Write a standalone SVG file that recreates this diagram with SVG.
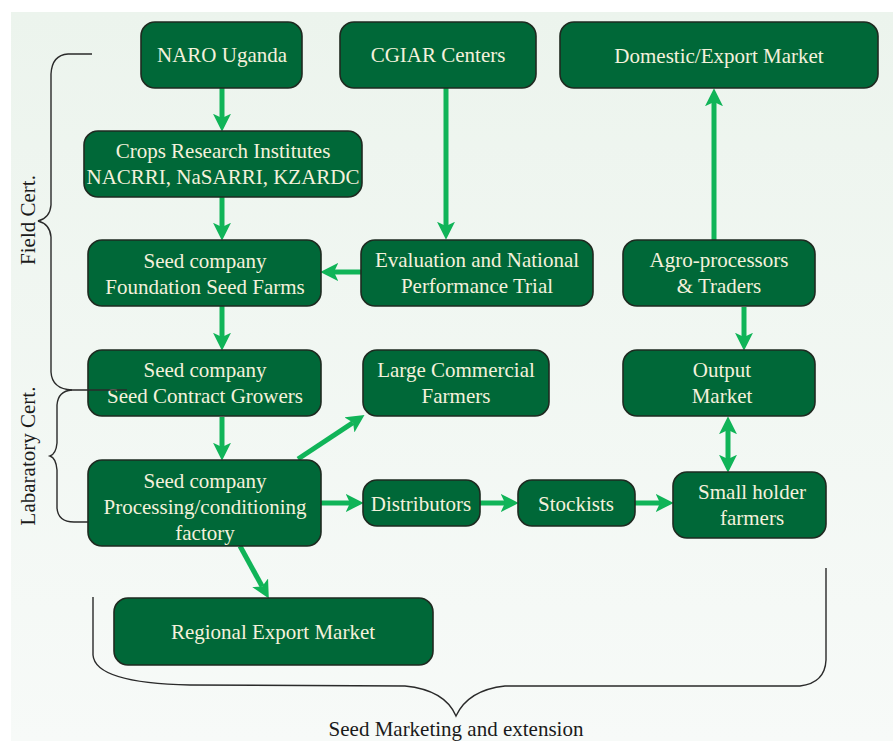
<svg xmlns="http://www.w3.org/2000/svg" width="893" height="741" viewBox="0 0 893 741">
<defs>
<linearGradient id="bg" x1="0" y1="0" x2="0" y2="1">
<stop offset="0" stop-color="#ecf4ed"/>
<stop offset="1" stop-color="#f7faf8"/>
</linearGradient>
<marker id="ah" markerUnits="userSpaceOnUse" markerWidth="18" markerHeight="18" viewBox="0 0 17 17" refX="4" refY="8.5" orient="auto-start-reverse">
<path d="M0,0 L17,8.5 L0,17 L4,8.5 z" fill="#10b458"/>
</marker>
<style>
.n rect{fill:#006838;stroke:#1e2a20;stroke-width:1.6}
.n text{font-family:"Liberation Serif","DejaVu Serif",serif;font-size:21px;fill:#f4f1dc;text-anchor:middle}
.c line{stroke:#10b458;stroke-width:5;marker-end:url(#ah)}
.br{fill:none;stroke:#2a2a2a;stroke-width:1.4}
.lbl{font-family:"Liberation Serif","DejaVu Serif",serif;font-size:21px;fill:#1a1a1a;text-anchor:middle}
</style>
</defs>
<rect x="0" y="0" width="893" height="741" fill="#ffffff"/>
<rect x="11" y="12" width="882" height="729" fill="url(#bg)"/>

<g class="c" id="connectors">
<line x1="222" y1="88" x2="222" y2="118"/>
<line x1="222" y1="197" x2="222" y2="227"/>
<line x1="446" y1="88" x2="446" y2="226"/>
<line x1="361" y1="272" x2="334" y2="272"/>
<line x1="222" y1="306" x2="222" y2="337"/>
<line x1="222" y1="417" x2="222" y2="447"/>
<line x1="298" y1="459" x2="353" y2="422.6"/>
<line x1="321" y1="503" x2="350" y2="503"/>
<line x1="480" y1="503" x2="505" y2="503"/>
<line x1="635" y1="503" x2="660" y2="503"/>
<line x1="714" y1="240" x2="714" y2="102"/>
<line x1="744" y1="307" x2="744" y2="337"/>
<line x1="728" y1="430" x2="728" y2="459" style="marker-start:url(#ah)"/>
<line x1="240" y1="546" x2="262.2" y2="586.5"/>
</g>

<g class="n" id="naro"><rect x="141" y="22" width="161" height="66" rx="14"/><text x="222" y="62">NARO Uganda</text></g>
<g class="n" id="cgiar"><rect x="340" y="22" width="196" height="66" rx="14"/><text x="438" y="62">CGIAR Centers</text></g>
<g class="n" id="domestic"><rect x="560" y="22" width="318" height="66" rx="14"/><text x="719" y="63">Domestic/Export Market</text></g>
<g class="n" id="cri"><rect x="84" y="131" width="278" height="66" rx="14"/><text x="223" y="158">Crops Research Institutes</text><text x="223" y="184">NACRRI, NaSARRI, KZARDC</text></g>
<g class="n" id="foundation"><rect x="88" y="240" width="233" height="66" rx="14"/><text x="205" y="268">Seed company</text><text x="205" y="294">Foundation Seed Farms</text></g>
<g class="n" id="evaluation"><rect x="361" y="240" width="232" height="66" rx="14"/><text x="477" y="267">Evaluation and National</text><text x="477" y="293">Performance Trial</text></g>
<g class="n" id="agro"><rect x="623" y="240" width="192" height="66" rx="14"/><text x="719" y="267">Agro-processors</text><text x="719" y="293">&amp; Traders</text></g>
<g class="n" id="contract"><rect x="88" y="350" width="233" height="66" rx="14"/><text x="205" y="377">Seed company</text><text x="205" y="403">Seed Contract Growers</text></g>
<g class="n" id="large"><rect x="363" y="350" width="186" height="66" rx="14"/><text x="456" y="377">Large Commercial</text><text x="456" y="403">Farmers</text></g>
<g class="n" id="output"><rect x="623" y="350" width="192" height="66" rx="14"/><text x="722" y="377">Output</text><text x="722" y="403">Market</text></g>
<g class="n" id="processing"><rect x="88" y="460" width="233" height="86" rx="14"/><text x="205" y="488">Seed company</text><text x="205" y="514">Processing/conditioning</text><text x="205" y="540">factory</text></g>
<g class="n" id="distributors"><rect x="363" y="480" width="117" height="46" rx="14"/><text x="421" y="511">Distributors</text></g>
<g class="n" id="stockists"><rect x="518" y="480" width="117" height="46" rx="14"/><text x="576" y="511">Stockists</text></g>
<g class="n" id="smallholder"><rect x="673" y="472" width="153" height="66" rx="14"/><text x="752" y="499">Small holder</text><text x="752" y="525">farmers</text></g>
<g class="n" id="regional"><rect x="114" y="598" width="319" height="67" rx="14"/><text x="273" y="639">Regional Export Market</text></g>

<g id="braces">
<path class="br" d="M92,54 L68,54 Q52,55 51,74 L51,205 Q50,218 38,221 Q50,224 51,237 L51,372 Q52,389 72,390 L127,390"/>
<path class="br" d="M72,390 Q58,391 57,405 L57,443 Q56,454 50,456 Q56,458 57,470 L57,508 Q58,522 74,522 L88,522"/>
<path class="br" d="M93,597 L93,655 Q95,683 190,685 L405,686 Q445,690 456,716 Q468,690 505,686 L800,686 Q825,683 826,660 L826,568"/>
<text class="lbl" transform="translate(35,220) rotate(-90)">Field Cert.</text>
<text class="lbl" transform="translate(35,456) rotate(-90)">Labaratory Cert.</text>
<text class="lbl" x="456" y="735.5">Seed Marketing and extension</text>
</g>
</svg>
